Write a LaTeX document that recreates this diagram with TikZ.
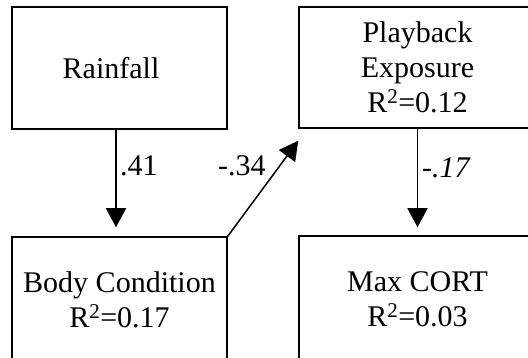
\documentclass[tikz,border=0pt]{standalone}
\usepackage{fontspec}
\setmainfont{Liberation Serif}
\usetikzlibrary{arrows.meta}
\tikzset{
  boxnode/.style={draw, line width=1.5pt, rectangle, inner sep=0pt, align=center,
    font=\fontsize{30}{35}\selectfont},
  linkarrow/.style={line width=1.5pt, -{Triangle[length=19pt,width=20pt]}},
  coef/.style={anchor=base west, inner sep=0pt, font=\fontsize{30}{35}\selectfont}
}
\begin{document}
\begin{tikzpicture}[x=1pt,y=-1pt]
\useasboundingbox (0,0) rectangle (528,358);
\clip (0,0) rectangle (528,358);
\node[boxnode, minimum width=215pt, minimum height=122pt] (rain) at (119.5,68) {Rainfall\hspace*{17pt}};
\node[boxnode, minimum width=237pt, minimum height=121pt] (play) at (417.5,67.5) {Playback\\Exposure\\R\textsuperscript{2}=0.12};
\node[boxnode, minimum width=215pt, minimum height=125pt] (body) at (119.5,299.5) {Body Condition\\R\textsuperscript{2}=0.17};
\node[boxnode, minimum width=237pt, minimum height=126pt] (cort) at (417.5,299) {Max CORT\\R\textsuperscript{2}=0.03};
\draw[linkarrow, shorten >=9pt] ([xshift=-3.5pt]rain.south) -- ([xshift=-3.5pt]body.north);
\draw[linkarrow, shorten >=8pt] (play.south) -- (cort.north);
\draw[linkarrow] (body.north east) -- ([yshift=-12pt]play.south west);
\node[coef] (c1) at (120,176) {.41};
\node[coef] (c2) at (218,176) {-.34};
\node[coef] (c3) at (422,178) {\itshape -.17};
\end{tikzpicture}
\end{document}
